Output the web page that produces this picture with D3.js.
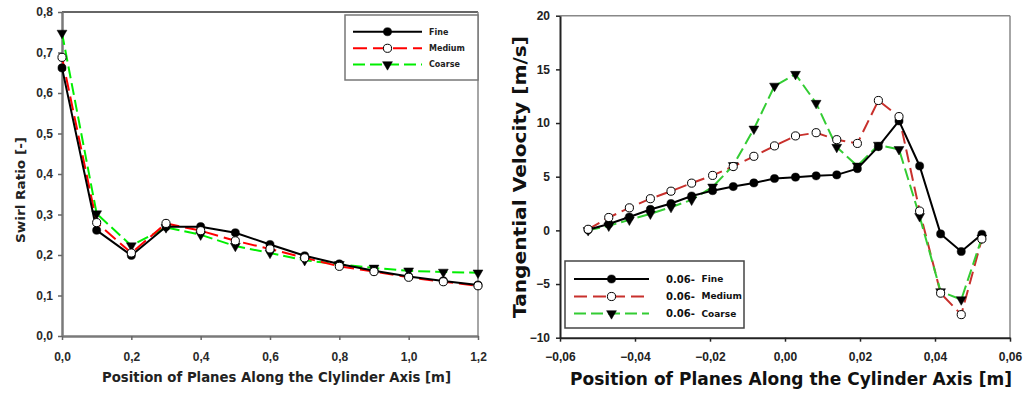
<!DOCTYPE html>
<meta charset="utf-8">
<script src="https://cdn.jsdelivr.net/npm/d3@7"></script>
<style>
  body { margin: 0; background: #fff; }
</style>
<div id="my_dataviz"></div>
<script>

// ---- left chart: swirl ratio along the axis
var planePos    = [0, 0.1, 0.2, 0.3, 0.4, 0.5, 0.6, 0.7, 0.8, 0.9, 1.0, 1.1, 1.2];
var swirlFine   = [0.662, 0.261, 0.199, 0.270, 0.270, 0.255, 0.226, 0.198, 0.178, 0.161, 0.147, 0.136, 0.126];
var swirlMedium = [0.688, 0.280, 0.205, 0.278, 0.260, 0.235, 0.215, 0.193, 0.172, 0.159, 0.145, 0.134, 0.124];
var swirlCoarse = [0.748, 0.302, 0.223, 0.268, 0.250, 0.222, 0.205, 0.187, 0.177, 0.168, 0.161, 0.158, 0.156];
var swirlXTicks = [0, 0.2, 0.4, 0.6, 0.8, 1.0, 1.2];
var swirlYTicks = [0, 0.1, 0.2, 0.3, 0.4, 0.5, 0.6, 0.7, 0.8];

// ---- right chart: tangential velocity across the section
var radialPos = [-0.0525, -0.047, -0.0415, -0.0359, -0.0304, -0.0249, -0.0193, -0.0138, -0.0083, -0.0028,
                  0.0028, 0.0083, 0.0138, 0.0193, 0.0249, 0.0304, 0.0359, 0.0415, 0.047, 0.0525];
var velFine   = [0.05, 0.6, 1.25, 1.95, 2.5, 3.2, 3.7, 4.08, 4.42, 4.83, 4.96, 5.08, 5.17, 5.75, 7.8, 10.2, 6.0, -0.33, -1.97, -0.36];
var velMedium = [0.1, 1.2, 2.1, 2.95, 3.65, 4.4, 5.12, 5.95, 6.9, 7.87, 8.8, 9.1, 8.45, 8.1, 12.1, 10.6, 1.8, -5.85, -7.85, -0.8];
var velCoarse = [0.0, 0.42, 0.98, 1.54, 2.16, 2.84, 4.05, 6.05, 9.45, 13.45, 14.55, 11.85, 7.75, 6.0, 7.95, 7.55, 1.3, -5.7, -6.45, -0.7];
var velXTicks = [-0.06, -0.04, -0.02, 0, 0.02, 0.04, 0.06];
var velYTicks = [-10, -5, 0, 5, 10, 15, 20];

var legendLeft  = ["Fine", "Medium", "Coarse"];
var legendRight = ["Fine", "Medium", "Coarse"];

var svg = d3.select("#my_dataviz")
  .append("svg")
    .attr("width", 1027)
    .attr("height", 394)
    .style("display", "block");

var comma = function(fmt) {
  var f = d3.format(fmt);
  return function(d) { return f(d).replace(".", ","); };
};

// symbols
var symCircle = d3.symbol().type(d3.symbolCircle).size(52);
var symTri = d3.symbol().type(d3.symbolTriangle).size(42);

function drawSeries(g, xs, ys, x, y, style) {
  var pts = xs.map(function(d, i) { return [d, ys[i]]; });
  g.append("path")
    .datum(pts)
    .attr("fill", "none")
    .attr("stroke", style.color)
    .attr("stroke-width", 2)
    .style("stroke-dasharray", style.dash)
    .attr("d", d3.line()
      .x(function(d) { return x(d[0]); })
      .y(function(d) { return y(d[1]); }));
}

function drawMarkers(g, xs, ys, x, y, kind) {
  g.selectAll(null)
    .data(xs.map(function(d, i) { return [d, ys[i]]; }))
    .enter()
    .append("path")
      .attr("d", kind == "tri" ? symTri : symCircle)
      .attr("fill", kind == "open" ? "white" : "black")
      .attr("stroke", "black")
      .attr("stroke-width", kind == "open" ? 1 : 0.5)
      .attr("transform", function(d) {
        return "translate(" + x(d[0]) + "," + y(d[1]) + ")" + (kind == "tri" ? " rotate(180)" : "");
      });
}

function legendRow(g, x1, x2, yy, style, kind) {
  g.append("line")
    .attr("x1", x1).attr("x2", x2).attr("y1", yy).attr("y2", yy)
    .attr("stroke", style.color)
    .attr("stroke-width", 2)
    .style("stroke-dasharray", style.dash);
  g.append("path")
    .attr("d", kind == "tri" ? symTri : symCircle)
    .attr("fill", kind == "open" ? "white" : "black")
    .attr("stroke", "black")
    .attr("stroke-width", kind == "open" ? 1 : 0.5)
    .attr("transform", "translate(" + ((x1 + x2) / 2) + "," + yy + ")" + (kind == "tri" ? " rotate(180)" : ""));
}

// =================== LEFT CHART ===================
var xL = d3.scaleLinear().domain([0, 1.2]).range([62, 478]);
var yL = d3.scaleLinear().domain([0, 0.8]).range([336, 12]);
var gL = svg.append("g");

// frame top / right
gL.append("line").attr("x1", xL(0)).attr("x2", xL(1.2)).attr("y1", yL(0.8)).attr("y2", yL(0.8))
  .attr("stroke", "#333").attr("stroke-width", 1.5);
gL.append("line").attr("x1", xL(1.2)).attr("x2", xL(1.2)).attr("y1", yL(0.8)).attr("y2", yL(0))
  .attr("stroke", "#888").attr("stroke-width", 1.5);

var axL = gL.append("g")
  .attr("transform", "translate(" + xL(0) + ",0)")
  .call(d3.axisLeft(yL).tickValues(swirlYTicks).tickFormat(comma(".1f")).tickSize(4).tickSizeOuter(0).tickPadding(5));
var axB = gL.append("g")
  .attr("transform", "translate(0," + yL(0) + ")")
  .call(d3.axisBottom(xL).tickValues(swirlXTicks).tickFormat(comma(".1f")).tickSize(4).tickSizeOuter(0).tickPadding(12));
[axL, axB].forEach(function(a) {
  a.select(".domain").attr("stroke", "#7a7a7a").attr("stroke-width", 2.5);
  a.selectAll(".tick line").attr("stroke", "#666").attr("stroke-width", 1.5);
  a.selectAll(".tick text").attr("fill", "#2a2a2a")
    .style("font", "bold 12px 'Liberation Sans', Arial, sans-serif");
});

var stFineL = {color: "black", dash: null};
var stMedL = {color: "#ff0000", dash: "14,6"};
var stCoarseL = {color: "#00ee00", dash: "12,5"};

drawSeries(gL, planePos, swirlCoarse, xL, yL, stCoarseL);
drawSeries(gL, planePos, swirlMedium, xL, yL, stMedL);
drawSeries(gL, planePos, swirlFine, xL, yL, stFineL);
drawMarkers(gL, planePos, swirlFine, xL, yL, "filled");
drawMarkers(gL, planePos, swirlCoarse, xL, yL, "tri");
drawMarkers(gL, planePos, swirlMedium, xL, yL, "open");

// axis titles
gL.append("text")
  .attr("transform", "translate(24.5,190) rotate(-90)")
  .style("text-anchor", "middle")
  .style("font", "bold 13px 'DejaVu Sans', sans-serif")
  .attr("fill", "#222")
  .attr("textLength", 106).attr("lengthAdjust", "spacingAndGlyphs")
  .text("Swirl Ratio [-]");
gL.append("text")
  .attr("x", 276.5).attr("y", 382)
  .style("text-anchor", "middle")
  .style("font", "bold 14.5px 'DejaVu Sans', sans-serif")
  .attr("fill", "#222")
  .attr("textLength", 349).attr("lengthAdjust", "spacingAndGlyphs")
  .text("Position of Planes Along the Clylinder Axis [m]");

// legend
gL.append("rect")
  .attr("x", 345).attr("y", 15).attr("width", 133).attr("height", 65)
  .attr("fill", "white").attr("stroke", "#777").attr("stroke-width", 1.5);
legendRow(gL, 353, 422, 31.7, stFineL, "filled");
legendRow(gL, 353, 422, 48.3, stMedL, "open");
legendRow(gL, 353, 422, 64.5, stCoarseL, "tri");
legendLeft.forEach(function(t, i) {
  gL.append("text").attr("x", 429).attr("y", 31.7 + i * 16.4).attr("dy", "0.35em")
    .style("font", "bold 8px 'DejaVu Sans', sans-serif").attr("fill", "#222").text(t);
});

// =================== RIGHT CHART ===================
var xR = d3.scaleLinear().domain([-0.06, 0.06]).range([560, 1010]);
var yR = d3.scaleLinear().domain([-10, 20]).range([337.7, 15.7]);
var gR = svg.append("g");

gR.append("line").attr("x1", xR(-0.06)).attr("x2", xR(0.06)).attr("y1", yR(20)).attr("y2", yR(20))
  .attr("stroke", "#888").attr("stroke-width", 1.5);
gR.append("line").attr("x1", xR(0.06)).attr("x2", xR(0.06)).attr("y1", yR(20)).attr("y2", yR(-10))
  .attr("stroke", "#888").attr("stroke-width", 1.5);

var axRL = gR.append("g")
  .attr("transform", "translate(" + xR(-0.06) + ",0)")
  .call(d3.axisLeft(yR).tickValues(velYTicks).tickFormat(d3.format("d")).tickSize(4).tickSizeOuter(0).tickPadding(6));
var axRB = gR.append("g")
  .attr("transform", "translate(0," + yR(-10) + ")")
  .call(d3.axisBottom(xR).tickValues(velXTicks).tickFormat(comma(".2f")).tickSize(4).tickSizeOuter(0).tickPadding(11));
[axRL, axRB].forEach(function(a) {
  a.select(".domain").attr("stroke", "#222").attr("stroke-width", 2);
  a.selectAll(".tick line").attr("stroke", "#222").attr("stroke-width", 1.5);
  a.selectAll(".tick text").attr("fill", "#222")
    .style("font", "bold 12px 'Liberation Sans', Arial, sans-serif");
});

var stFineR = {color: "black", dash: null};
var stMedR = {color: "#c8302c", dash: "13,6"};
var stCoarseR = {color: "#33cc33", dash: "12,5"};

drawSeries(gR, radialPos, velMedium, xR, yR, stMedR);
drawSeries(gR, radialPos, velCoarse, xR, yR, stCoarseR);
drawSeries(gR, radialPos, velFine, xR, yR, stFineR);
drawMarkers(gR, radialPos, velFine, xR, yR, "filled");
drawMarkers(gR, radialPos, velCoarse, xR, yR, "tri");
drawMarkers(gR, radialPos, velMedium, xR, yR, "open");

gR.append("text")
  .attr("transform", "translate(526,177) rotate(-90)")
  .style("text-anchor", "middle")
  .style("font", "bold 17px 'DejaVu Sans', sans-serif")
  .attr("fill", "#111")
  .attr("textLength", 282).attr("lengthAdjust", "spacingAndGlyphs")
  .text("Tangential Velocity [m/s]");
gR.append("text")
  .attr("x", 791).attr("y", 384.5)
  .style("text-anchor", "middle")
  .style("font", "bold 17.5px 'DejaVu Sans', sans-serif")
  .attr("fill", "#111")
  .attr("textLength", 442).attr("lengthAdjust", "spacingAndGlyphs")
  .text("Position of Planes Along the Cylinder Axis [m]");

// legend
gR.append("rect")
  .attr("x", 565).attr("y", 261).attr("width", 179).attr("height", 67)
  .attr("fill", "white").attr("stroke", "#444").attr("stroke-width", 1.5);
legendRow(gR, 574, 649, 279, stFineR, "filled");
legendRow(gR, 574, 649, 296.5, stMedR, "open");
legendRow(gR, 574, 649, 313.5, stCoarseR, "tri");
legendRight.forEach(function(t, i) {
  var yy = 279 + i * 17.2;
  gR.append("text").attr("x", 666).attr("y", yy).attr("dy", "0.35em")
    .style("font", "bold 11px 'DejaVu Sans', sans-serif").attr("fill", "#111")
    .attr("textLength", 29).attr("lengthAdjust", "spacingAndGlyphs")
    .text("0.06-");
  gR.append("text").attr("x", 701.5).attr("y", yy).attr("dy", "0.35em")
    .style("font", "bold 9px 'DejaVu Sans', sans-serif").attr("fill", "#111").text(t);
});

</script>
